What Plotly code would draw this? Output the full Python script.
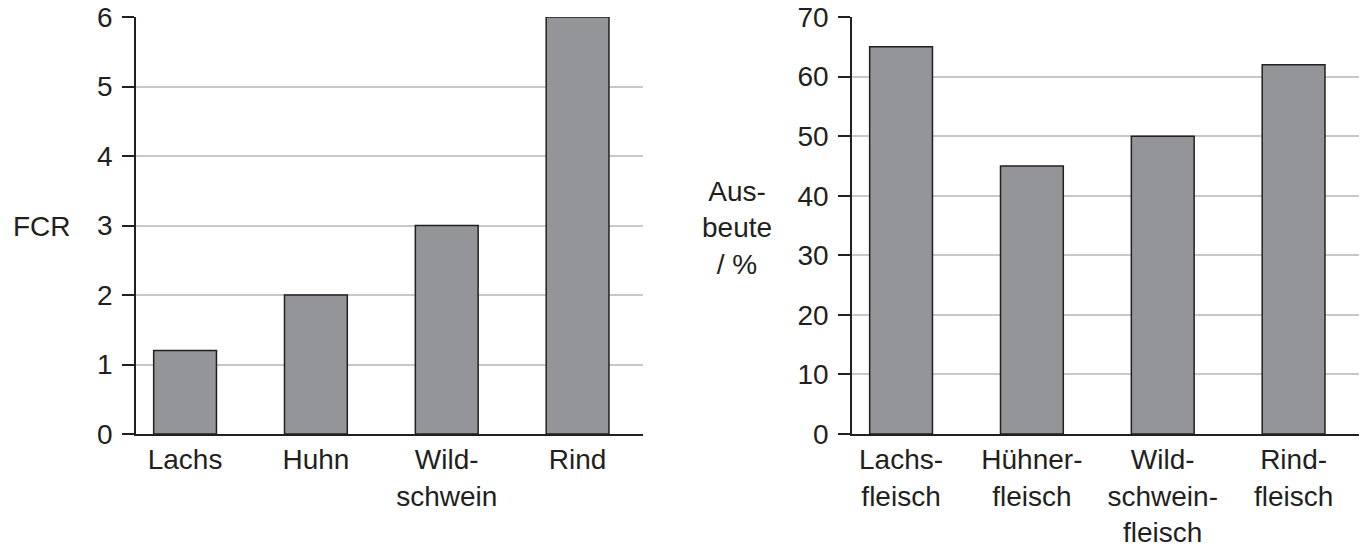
import plotly.graph_objects as go

# Data
fcr_categories = ["Lachs", "Huhn", "Wild-<br>schwein", "Rind"]
fcr_values = [1.2, 2, 3, 6]
fcr_ticks = [0, 1, 2, 3, 4, 5, 6]

yield_categories = ["Lachs-<br>fleisch", "Hühner-<br>fleisch", "Wild-<br>schwein-<br>fleisch", "Rind-<br>fleisch"]
yield_values = [65, 45, 50, 62]
yield_ticks = [0, 10, 20, 30, 40, 50, 60, 70]

W, H = 1370, 548
FONT = "Liberation Sans, Arial, sans-serif"
TXT = "#231f20"
BAR = "#939598"
GRID = "#c8c8c8"
FS = 28

fig = go.Figure()
fig.add_trace(go.Bar(x=fcr_categories, y=fcr_values, xaxis="x", yaxis="y",
                     width=0.48, marker=dict(color=BAR, line=dict(color=TXT, width=1.5)),
                     showlegend=False, hoverinfo="skip"))
fig.add_trace(go.Bar(x=yield_categories, y=yield_values, xaxis="x2", yaxis="y2",
                     width=0.48, marker=dict(color=BAR, line=dict(color=TXT, width=1.5)),
                     showlegend=False, hoverinfo="skip"))

xcommon = dict(type="category", range=[-0.375, 3.5], showgrid=False, zeroline=False,
               showline=True, linecolor=TXT, linewidth=1.5, ticks="", automargin=False,
               tickfont=dict(family=FONT, size=FS, color=TXT), fixedrange=True)
ycommon = dict(showgrid=True, gridcolor=GRID, gridwidth=1.5, zeroline=False,
               showline=True, linecolor=TXT, linewidth=1.5, ticks="outside",
               ticklen=12, tickwidth=1.5, tickcolor=TXT, automargin=False,
               ticklabelstandoff=4,
               tickfont=dict(family=FONT, size=FS, color=TXT), fixedrange=True)

fig.update_layout(
    width=W, height=H,
    autosize=False,
    margin=dict(l=0, r=0, t=0, b=0, pad=0, autoexpand=False),
    paper_bgcolor="white", plot_bgcolor="white",
    bargap=0.5,
    font=dict(family=FONT, size=FS, color=TXT),
    xaxis=dict(domain=[136 / W, 643 / W], anchor="y", **xcommon),
    yaxis=dict(domain=[1 - 434 / H, 1 - 17 / H], anchor="x", range=[0, 6],
               tickvals=fcr_ticks, **ycommon),
    xaxis2=dict(domain=[852 / W, 1359 / W], anchor="y2", **xcommon),
    yaxis2=dict(domain=[1 - 434 / H, 1 - 17 / H], anchor="x2", range=[0, 70],
                tickvals=yield_ticks, **ycommon),
    annotations=[
        dict(text="FCR", xref="paper", yref="paper", x=42 / W, y=1 - 227 / H,
             xanchor="center", yanchor="middle", showarrow=False,
             font=dict(family=FONT, size=FS, color=TXT)),
        dict(text="Aus-<br>beute<br>/ %", xref="paper", yref="paper", x=737 / W, y=1 - 228 / H,
             xanchor="center", yanchor="middle", showarrow=False,
             font=dict(family=FONT, size=FS, color=TXT)),
    ],
)

fig.write_html("out.html", config={"displayModeBar": False},
               post_script="document.body.style.margin='0';document.body.style.overflow='hidden';")
